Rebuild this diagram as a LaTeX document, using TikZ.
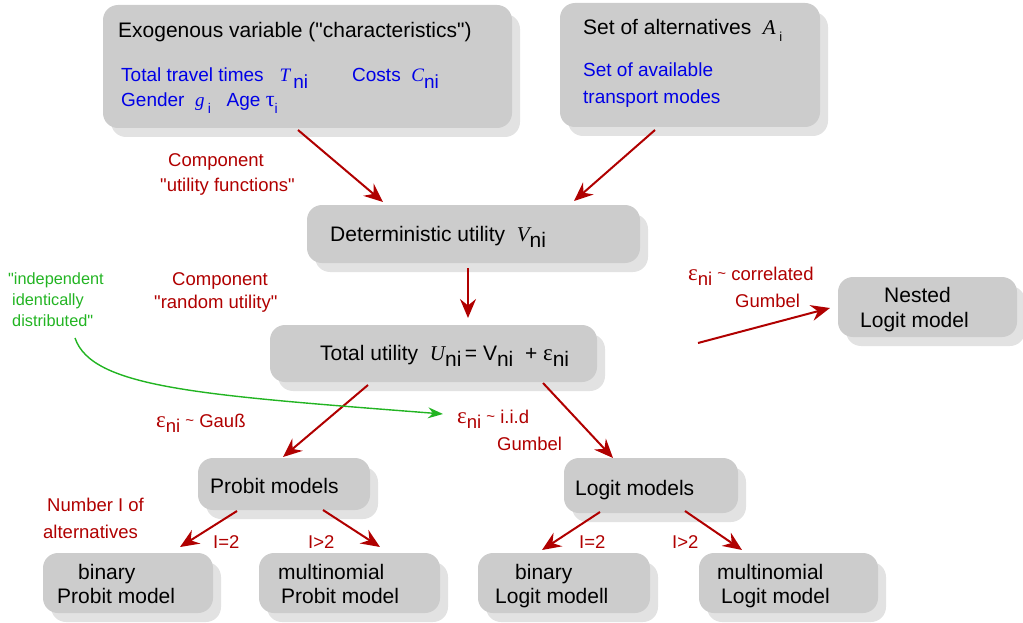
\documentclass[tikz,border=0pt]{standalone}
\usepackage{fontspec}
\setmainfont{Liberation Sans}[Ligatures=TeXOff]
\newfontfamily\tms{Liberation Serif}
\usetikzlibrary{arrows.meta,shadows}
\definecolor{boxgray}{RGB}{204,204,204}
\definecolor{shadowgray}{RGB}{226,226,226}
\definecolor{dred}{RGB}{176,0,0}
\definecolor{tblue}{RGB}{0,0,230}
\definecolor{tgreen}{RGB}{34,180,34}
\newcommand{\sbs}[1]{\raisebox{-0.32em}{#1}}
\newcommand{\mi}[1]{{\tms\itshape #1}}
\newcommand{\eps}{{\tms\fontsize{23}{25}\selectfont ε}}
\newcommand{\tld}{{\fontsize{15}{17}\selectfont\raisebox{0.1em}{\textasciitilde}}}
\tikzset{
  box/.style={fill=boxgray, rounded corners=15pt, inner sep=0pt,
    drop shadow={shadow xshift=8pt, shadow yshift=-9pt, fill=shadowgray, opacity=1}},
  txt/.style={anchor=base west, inner sep=0pt, font=\fontsize{21}{24}\selectfont},
  btxt/.style={txt, text=tblue, font=\fontsize{19}{22}\selectfont},
  rtxt/.style={txt, text=dred, font=\fontsize{18.5}{22}\selectfont},
  gtxt/.style={txt, text=tgreen, font=\fontsize{16.3}{19}\selectfont},
  rarrow/.style={draw=dred, line width=2pt, -{Stealth[length=19pt,width=16pt,inset=6.5pt]}},
  garrow/.style={draw=tgreen, line width=1.4pt, -{Stealth[length=15pt,width=11pt,inset=5pt]}}
}
\begin{document}
\begin{tikzpicture}[x=1pt,y=-1pt]
\useasboundingbox (0,0) rectangle (1023,623);
% boxes
\node[box, minimum width=409pt, minimum height=123pt] (exo) at (307.5,66.5) {};
\node[box, minimum width=260pt, minimum height=124pt] (alt) at (690,65) {};
\node[box, minimum width=333pt, minimum height=58pt] (det) at (473.5,234) {};
\node[box, minimum width=327pt, minimum height=57pt] (tot) at (433.5,353.5) {};
\node[box, minimum width=179pt, minimum height=60pt] (nest) at (927.5,307) {};
\node[box, minimum width=172pt, minimum height=52pt] (prob) at (284,484) {};
\node[box, minimum width=170pt, minimum height=60pt] (pbin) at (128,583) {};
\node[box, minimum width=181pt, minimum height=60pt] (pmul) at (349.5,583) {};
\node[box, minimum width=174pt, minimum height=55pt] (logit) at (651,485.5) {};
\node[box, minimum width=172pt, minimum height=60pt] (lbin) at (564,583) {};
\node[box, minimum width=179pt, minimum height=60pt] (lmul) at (788.5,583) {};
% box texts
\node[txt] (t-exo) at (118,38) {Exogenous variable ("characteristics")};
\node[btxt] (t-tt) at (121,82) {Total travel times\ \ \ \mi{T}\,\sbs{ni}};
\node[btxt] (t-co) at (352,82) {Costs\ \ \mi{C}\sbs{ni}};
\node[btxt] (t-ga) at (121,107) {Gender\ \ \mi{g}\,\sbs{\fontsize{14}{16}\selectfont i}\ \ \ Age {\tms\fontsize{22}{24}\selectfont τ}\sbs{\fontsize{14}{16}\selectfont i}};
\node[txt] (t-alt) at (583,35) {Set of alternatives\ \ \mi{A}\,\sbs{\fontsize{13}{15}\selectfont i}};
\node[btxt] (t-av) at (583,77) {Set of available};
\node[btxt] (t-tm) at (583,104) {transport modes};
\node[txt] (t-det) at (330,241) {Deterministic utility\ \ \mi{V}\sbs{ni}};
\node[txt] (t-tot) at (320,360) {Total utility\ \ \mi{U}\sbs{ni}\,= V\sbs{ni}\ \ + \eps\sbs{ni}};
\node[txt] (t-nes1) at (884,302) {Nested};
\node[txt] (t-nes2) at (860,327) {Logit model};
\node[txt] (t-prob) at (210,493) {Probit models};
\node[txt] (t-pb1) at (78,579) {binary};
\node[txt] (t-pb2) at (57,603) {Probit model};
\node[txt] (t-pm1) at (278,579) {multinomial};
\node[txt] (t-pm2) at (281,603) {Probit model};
\node[txt] (t-logit) at (575,495) {Logit models};
\node[txt] (t-lb1) at (515,579) {binary};
\node[txt] (t-lb2) at (495,603) {Logit modell};
\node[txt] (t-lm1) at (717,579) {multinomial};
\node[txt] (t-lm2) at (721,603) {Logit model};
% red labels
\node[rtxt] (l-c1a) at (168,167) {Component};
\node[rtxt] (l-c1b) at (160,191) {"utility functions"};
\node[rtxt] (l-c2a) at (172,285) {Component};
\node[rtxt] (l-c2b) at (154,308) {"random utility"};
\node[rtxt] (l-gau) at (156,427) {\eps\sbs{ni}\ \tld\ Gauß};
\node[rtxt] (l-iid) at (457,423) {\eps\sbs{ni}\ \tld\ i.i.d};
\node[rtxt] (l-iid2) at (497,450) {Gumbel};
\node[rtxt] (l-cor) at (688,280) {\eps\sbs{ni}\ \tld\ correlated};
\node[rtxt] (l-cor2) at (735,307) {Gumbel};
\node[rtxt] (l-num1) at (47,511) {Number I of};
\node[rtxt] (l-num2) at (43,538) {alternatives};
\node[rtxt] (l-p2) at (213,548) {I=2};
\node[rtxt] (l-pg) at (308,548) {I>2};
\node[rtxt] (l-l2) at (579,548) {I=2};
\node[rtxt] (l-lg) at (672,548) {I>2};
% green label
\node[gtxt] (g-1) at (8,284) {"independent};
\node[gtxt] (g-2) at (12,305) {identically};
\node[gtxt] (g-3) at (12,326) {distributed"};
% connector end points
\coordinate (exoOut) at (298,130);
\coordinate (detIn1) at (383,202);
\coordinate (altOut) at (655,130);
\coordinate (detIn2) at (574,201);
\coordinate (detOut) at (468,268);
\coordinate (totIn) at (468,318);
\coordinate (totOutN) at (698,343);
\coordinate (nestIn) at (830,308);
\coordinate (totOutP) at (368,385);
\coordinate (probIn) at (283,457);
\coordinate (totOutL) at (543,383);
\coordinate (logitIn) at (613,458);
\coordinate (probOutB) at (237,511);
\coordinate (pbinIn) at (180,547);
\coordinate (probOutM) at (323,510);
\coordinate (pmulIn) at (380,547);
\coordinate (logitOutB) at (600,512);
\coordinate (lbinIn) at (542,550);
\coordinate (logitOutM) at (685,511);
\coordinate (lmulIn) at (742,550);
\coordinate (gStart) at (75,338);
\coordinate (gEnd) at (443,414);
% connectors
\draw[rarrow] (exoOut) -- (detIn1);
\draw[rarrow] (altOut) -- (detIn2);
\draw[rarrow] (detOut) -- (totIn);
\draw[rarrow] (totOutN) -- (nestIn);
\draw[rarrow] (totOutP) -- (probIn);
\draw[rarrow] (totOutL) -- (logitIn);
\draw[rarrow] (probOutB) -- (pbinIn);
\draw[rarrow] (probOutM) -- (pmulIn);
\draw[rarrow] (logitOutB) -- (lbinIn);
\draw[rarrow] (logitOutM) -- (lmulIn);
\draw[garrow] (gStart) .. controls (92,388) and (200,395) .. (gEnd);
\end{tikzpicture}
\end{document}
